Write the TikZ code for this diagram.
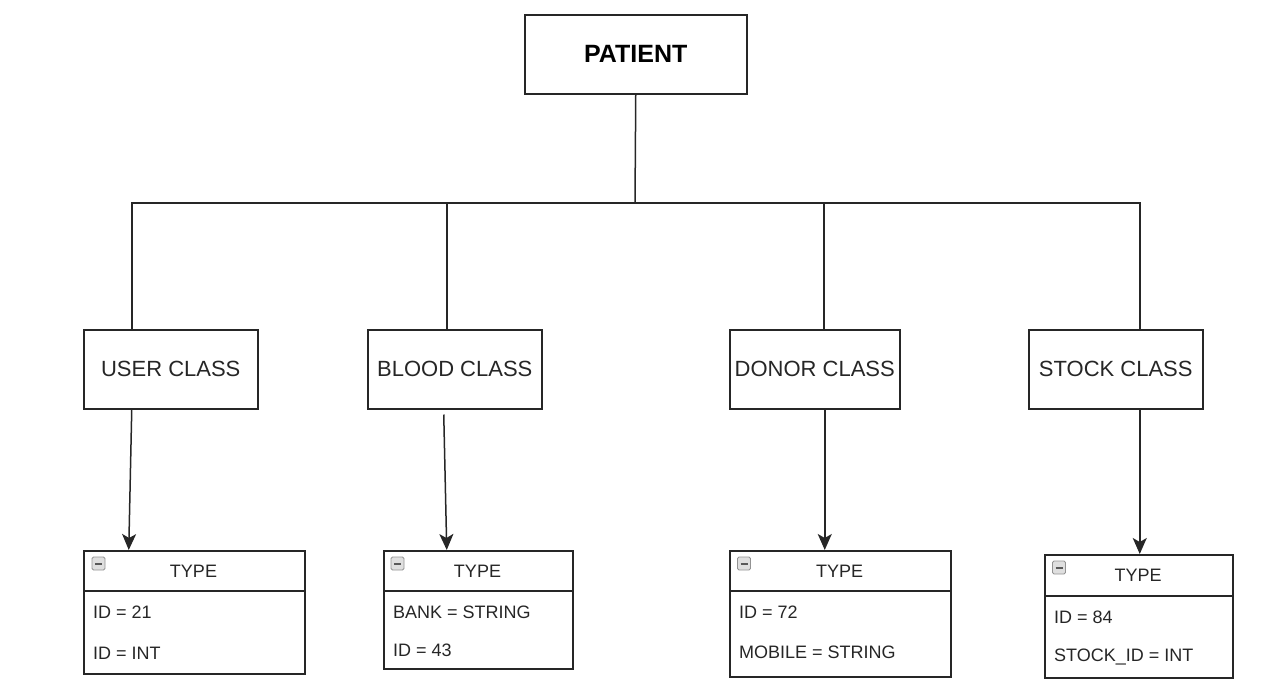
\documentclass[tikz,border=0pt]{standalone}
\usepackage{fontspec}
\setmainfont{Liberation Sans}
\usetikzlibrary{arrows.meta,calc}
\tikzset{
  x=1pt,y=-1pt,
  ln/.style={line width=1.5pt,draw=black!85},
  cls/.style={ln,rectangle,inner sep=0pt,anchor=north west,font=\fontsize{22}{25}\selectfont,text=black!85},
  tbox/.style={ln,rectangle,inner sep=0pt,anchor=north west},
  hdr/.style={font=\fontsize{18}{21}\selectfont,text=black!85,inner sep=0pt},
  row/.style={font=\fontsize{18}{21}\selectfont,text=black!85,inner sep=0pt,anchor=west},
  arr/.style={ln,-{Stealth[length=16pt,width=14pt,inset=4pt]}},
  icon/.style={rectangle,draw=gray!85,fill=gray!25,line width=0.9pt,rounded corners=1.5pt,minimum size=13pt,inner sep=0pt,
    path picture={\draw[line width=2pt,black!65] ([xshift=3pt]path picture bounding box.west) -- ([xshift=-3pt]path picture bounding box.east);}}
}
\begin{document}
\begin{tikzpicture}
\useasboundingbox (0,0) rectangle (1280,699);
% top node
\node[cls,minimum width=222pt,minimum height=79pt,font=\fontsize{25}{28}\selectfont\bfseries,text=black] (p) at (524,14) {PATIENT};
% class nodes
\node[cls,minimum width=174pt,minimum height=79pt] (uc) at (83,329) {USER CLASS};
\node[cls,minimum width=174pt,minimum height=79pt] (bc) at (367,329) {BLOOD CLASS};
\node[cls,minimum width=170pt,minimum height=79pt] (dc) at (729,329) {DONOR CLASS};
\node[cls,minimum width=174pt,minimum height=79pt] (sc) at (1028,329) {STOCK CLASS};
% tree connectors
\coordinate (bus) at (635,203);
\draw[ln] (p.south) -- (bus);
\draw[ln] (bus) -| ([xshift=-39pt]uc.north);
\draw[ln] (bus) -| ([xshift=-8pt]bc.north);
\draw[ln] (bus) -| ([xshift=9pt]dc.north);
\draw[ln] (bus) -| ([xshift=24pt]sc.north);
% type boxes
\node[tbox,minimum width=221pt,minimum height=123pt] (ut) at (83,550) {};
\node[tbox,minimum width=189pt,minimum height=118pt] (bt) at (383,550) {};
\node[tbox,minimum width=221pt,minimum height=126pt] (dt) at (729,550) {};
\node[tbox,minimum width=188pt,minimum height=123pt] (st) at (1044,554) {};
% header separators
\draw[ln] ([yshift=-41pt]ut.north west) -- ([yshift=-41pt]ut.north east);
\draw[ln] ([yshift=-41pt]bt.north west) -- ([yshift=-41pt]bt.north east);
\draw[ln] ([yshift=-41pt]dt.north west) -- ([yshift=-41pt]dt.north east);
\draw[ln] ([yshift=-42pt]st.north west) -- ([yshift=-42pt]st.north east);
% icons
\node[icon] (ui) at (98.5,563.5) {};
\node[icon] (bi) at (397.5,563.5) {};
\node[icon] (di) at (744,563.5) {};
\node[icon] (si) at (1059,567.5) {};
% headers
\node[hdr] (uh) at (193.5,571) {TYPE};
\node[hdr] (bh) at (477.5,571) {TYPE};
\node[hdr] (dh) at (839.5,571) {TYPE};
\node[hdr] (sh) at (1138,575) {TYPE};
% rows
\node[row] (ur1) at (93,612) {ID = 21};
\node[row] (ur2) at (93,653) {ID = INT};
\node[row] (br1) at (393,612) {BANK = STRING};
\node[row] (br2) at (393,650) {ID = 43};
\node[row] (dr1) at (739,612) {ID = 72};
\node[row] (dr2) at (739,652) {MOBILE = STRING};
\node[row] (sr1) at (1054,617) {ID = 84};
\node[row] (sr2) at (1054,657) {STOCK\_ID = INT};
% arrows
\draw[arr] ([xshift=-39pt]uc.south) -- ([xshift=-65.5pt]ut.north);
\draw[arr] ([xshift=-11pt,yshift=-5pt]bc.south) -- ([xshift=-31.5pt]bt.north);
\draw[arr] ([xshift=10pt]dc.south) -- ([xshift=-15.5pt]dt.north);
\draw[arr] ([xshift=24pt]sc.south) -- ([xshift=1pt]st.north);
\end{tikzpicture}
\end{document}
